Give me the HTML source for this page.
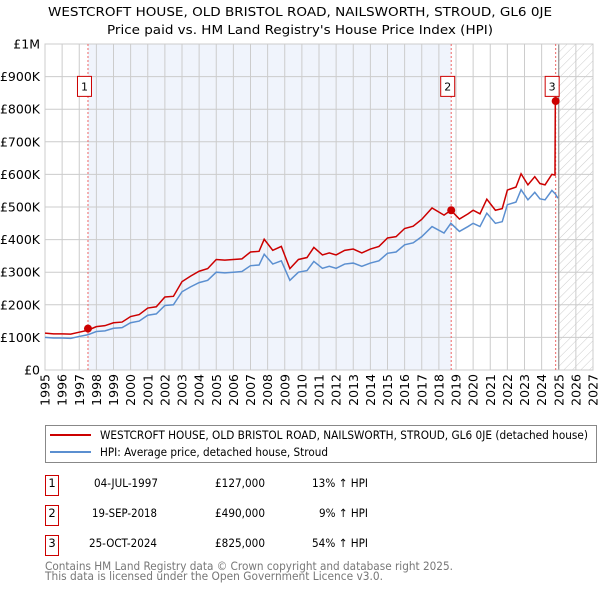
<!DOCTYPE html>
<html><head><meta charset="utf-8"><style>
body{margin:0;background:#fff;font-family:"DejaVu Sans","Liberation Sans",sans-serif;}
#wrap{position:relative;width:600px;height:590px;overflow:hidden}
svg text{font-family:"DejaVu Sans","Liberation Sans",sans-serif}
</style></head><body><div id="wrap">
<svg id="svg" width="600" height="590" style="position:absolute;left:0;top:0">
<defs><pattern id="hatch" width="6" height="6" patternUnits="userSpaceOnUse" patternTransform="rotate(45)"><line x1="0" y1="0" x2="0" y2="6" stroke="#ccc" stroke-width="1"/></pattern></defs>
<text x="48" y="16" font-size="12" textLength="504" lengthAdjust="spacingAndGlyphs">WESTCROFT HOUSE, OLD BRISTOL ROAD, NAILSWORTH, STROUD, GL6 0JE</text>
<text x="107" y="34" font-size="12" textLength="386" lengthAdjust="spacingAndGlyphs">Price paid vs. HM Land Registry's House Price Index (HPI)</text>
<g id="plot"></g>
<g>
<rect x="45.5" y="425.5" width="551" height="37" fill="#fff" stroke="#888"/>
<line x1="50" x2="91" y1="435" y2="435" stroke="#c00" stroke-width="2"/>
<text x="100" y="439" font-size="11.5" textLength="488" lengthAdjust="spacingAndGlyphs">WESTCROFT HOUSE, OLD BRISTOL ROAD, NAILSWORTH, STROUD, GL6 0JE (detached house)</text>
<line x1="50" x2="91" y1="452" y2="452" stroke="#5b8fd0" stroke-width="2"/>
<text x="100" y="456" font-size="11.5" textLength="228" lengthAdjust="spacingAndGlyphs">HPI: Average price, detached house, Stroud</text>
</g>
<g>
<rect x="45.5" y="475.5" width="13" height="20" fill="#fff" stroke="#c00"/>
<text x="52" y="487" font-size="11.5" text-anchor="middle">1</text>
<text x="94" y="487" font-size="11.5" textLength="64" lengthAdjust="spacingAndGlyphs">04-JUL-1997</text>
<text x="215" y="487" font-size="11.5" textLength="50" lengthAdjust="spacingAndGlyphs">£127,000</text>
<text x="312" y="487" font-size="11.5" textLength="56" lengthAdjust="spacingAndGlyphs">13% ↑ HPI</text>
<rect x="45.5" y="505.5" width="13" height="20" fill="#fff" stroke="#c00"/>
<text x="52" y="517" font-size="11.5" text-anchor="middle">2</text>
<text x="92" y="517" font-size="11.5" textLength="65" lengthAdjust="spacingAndGlyphs">19-SEP-2018</text>
<text x="215" y="517" font-size="11.5" textLength="50" lengthAdjust="spacingAndGlyphs">£490,000</text>
<text x="319" y="517" font-size="11.5" textLength="49" lengthAdjust="spacingAndGlyphs">9% ↑ HPI</text>
<rect x="45.5" y="535.5" width="13" height="20" fill="#fff" stroke="#c00"/>
<text x="52" y="547" font-size="11.5" text-anchor="middle">3</text>
<text x="89" y="547" font-size="11.5" textLength="68" lengthAdjust="spacingAndGlyphs">25-OCT-2024</text>
<text x="215" y="547" font-size="11.5" textLength="50" lengthAdjust="spacingAndGlyphs">£825,000</text>
<text x="312" y="547" font-size="11.5" textLength="56" lengthAdjust="spacingAndGlyphs">54% ↑ HPI</text>
</g>
<text x="45" y="570" font-size="11.5" fill="#777" textLength="408" lengthAdjust="spacingAndGlyphs">Contains HM Land Registry data © Crown copyright and database right 2025.</text>
<text x="45" y="580" font-size="11.5" fill="#777" textLength="338" lengthAdjust="spacingAndGlyphs">This data is licensed under the Open Government Licence v3.0.</text>
</svg>
</div>
<script>
const hpiYears=[1995,1995.5,1996,1996.5,1997,1997.5,1998,1998.5,1999,1999.5,2000,2000.5,2001,2001.5,2002,2002.5,2003,2003.5,2004,2004.5,2005,2005.5,2006,2006.5,2007,2007.5,2007.8,2008.3,2008.8,2009.3,2009.8,2010.3,2010.7,2011.2,2011.6,2012,2012.5,2013,2013.5,2014,2014.5,2015,2015.5,2016,2016.5,2017,2017.6,2018.3,2018.7,2019.2,2019.7,2020,2020.4,2020.8,2021.3,2021.7,2022,2022.5,2022.8,2023.2,2023.6,2023.9,2024.2,2024.6,2024.8,2024.95];
const hpiValues=[100,98,98,97,103,108,118,120,128,130,145,150,168,172,198,200,240,255,268,275,300,298,300,302,320,322,355,325,335,275,300,305,333,312,318,312,325,328,318,328,335,358,362,384,390,409,440,420,450,425,440,450,440,481,450,455,507,515,553,522,545,525,522,551,540,527];
const priceYears=[1995,1995.5,1996,1996.5,1997,1997.5,1998,1998.5,1999,1999.5,2000,2000.5,2001,2001.5,2002,2002.5,2003,2003.5,2004,2004.5,2005,2005.5,2006,2006.5,2007,2007.5,2007.8,2008.3,2008.8,2009.3,2009.8,2010.3,2010.7,2011.2,2011.6,2012,2012.5,2013,2013.5,2014,2014.5,2015,2015.5,2016,2016.5,2017,2017.6,2018.3,2018.7,2019.2,2019.7,2020,2020.4,2020.8,2021.3,2021.7,2022,2022.5,2022.8,2023.2,2023.6,2023.9,2024.2,2024.6,2024.78,2024.8];
const priceValues=[113,111,111,110,116,122,133,136,145,147,164,170,190,194,224,226,271,288,303,311,339,337,339,341,362,364,401,367,379,311,339,345,376,353,359,353,367,371,359,371,379,405,409,434,441,462,497,475,490,463,479,490,479,524,490,495,552,561,602,568,593,572,568,600,598,825];
const saleYears=[1997.51,2018.72,2024.82];
const saleValues=[127,490,825];
const saleLabels=["1","2","3"];
const yTicks=[0,100,200,300,400,500,600,700,800,900,1000];
const yTickLabels=["£0","£100K","£200K","£300K","£400K","£500K","£600K","£700K","£800K","£900K","£1M"];
const xTicks=[1995,1996,1997,1998,1999,2000,2001,2002,2003,2004,2005,2006,2007,2008,2009,2010,2011,2012,2013,2014,2015,2016,2017,2018,2019,2020,2021,2022,2023,2024,2025,2026,2027];
const L=45,R=593,T=44,B=370;
const x=y=>L+(y-1995)*(R-L)/32;
const yv=v=>B-v*(B-T)/1000;
const g=document.getElementById('plot');const NS="http://www.w3.org/2000/svg";
function mk(t,a){const e=document.createElementNS(NS,t);for(const k in a)e.setAttribute(k,a[k]);g.appendChild(e);return e;}
let e;
e=mk('rect',{x:x(saleYears[0]),y:T,width:x(saleYears[1])-x(saleYears[0]),height:B-T,fill:'#f0f4fc'});


e=mk('rect',{x:x(2025),y:T,width:R-x(2025),height:B-T,fill:'url(#hatch)'});


yTicks.forEach((v,i)=>{
 e=mk('line',{x1:L,x2:R,y1:yv(v),y2:yv(v),stroke:'#ccc'});
 
 
 e=mk('text',{x:40,y:yv(v)+4.5,'text-anchor':'end','font-size':12.5});e.textContent=yTickLabels[i];
 
 
});
xTicks.forEach(yr=>{
 e=mk('line',{x1:x(yr),x2:x(yr),y1:T,y2:B,stroke:'#ccc'});
 
 
 e=mk('text',{x:0,y:0,'text-anchor':'end','font-size':12.5,transform:`translate(${x(yr)+4.5},${B+4}) rotate(-90)`});e.textContent=yr;
 
 
});
e=mk('line',{x1:x(2025),x2:x(2025),y1:T,y2:B,stroke:'#888'});


e=mk('rect',{x:L,y:T,width:R-L,height:B-T,fill:'none',stroke:'#ccc'});


saleYears.forEach((yr,i)=>{
 e=mk('line',{x1:x(yr),x2:x(yr),y1:T,y2:B,stroke:'#e66','stroke-dasharray':'2,2'});
 
 
});
e=mk('polyline',{points:hpiYears.map((yr,i)=>x(yr)+','+yv(hpiValues[i])).join(' '),fill:'none',stroke:'#5b8fd0','stroke-width':1.5});


e=mk('polyline',{points:priceYears.map((yr,i)=>x(yr)+','+yv(priceValues[i])).join(' '),fill:'none',stroke:'#c00','stroke-width':1.5});


saleYears.forEach((yr,i)=>{
 e=mk('circle',{cx:x(yr),cy:yv(saleValues[i]),r:4,fill:'#c00'});
 
 
 e=mk('rect',{x:x(yr)-10.5,y:yv(870)-10,width:14,height:20,fill:'#fff',stroke:'#c00'});
 
 
 e=mk('text',{x:x(yr)-3.5,y:yv(870)+4,'text-anchor':'middle','font-size':11});e.textContent=saleLabels[i];
 
 
});
</script>
</body></html>
